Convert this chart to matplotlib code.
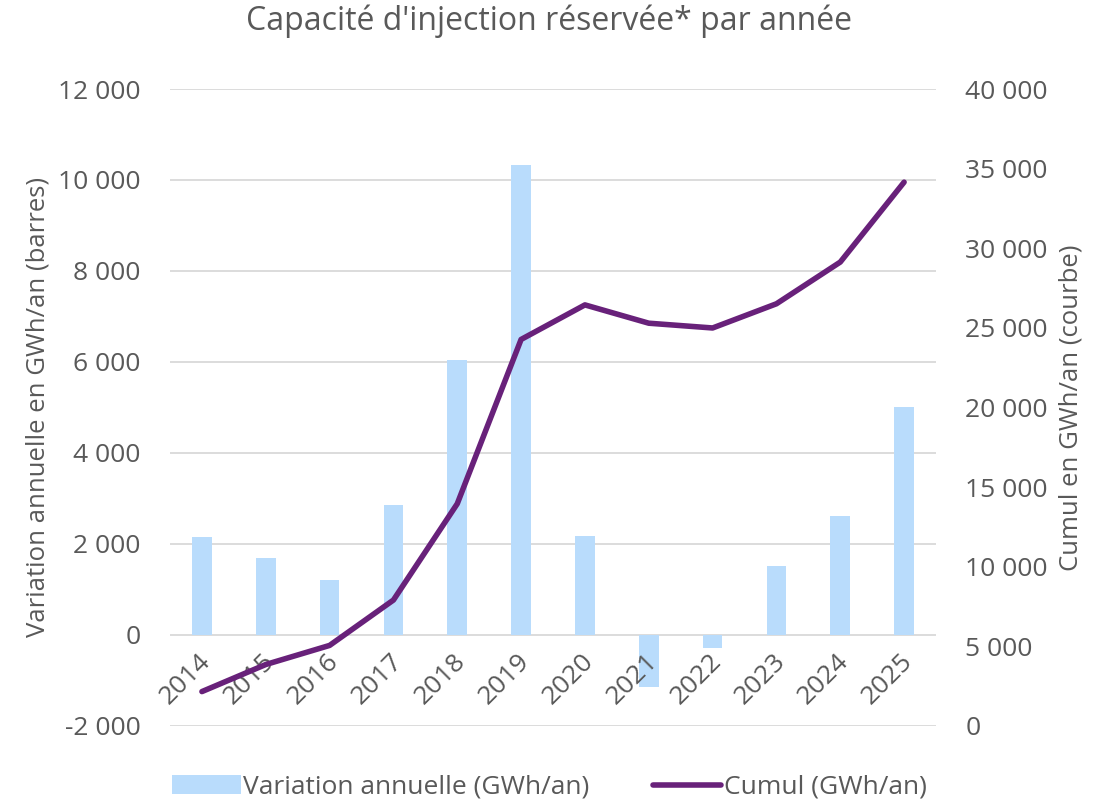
import numpy as np
import matplotlib.pyplot as plt
from matplotlib.ticker import FuncFormatter

years = ['2014', '2015', '2016', '2017', '2018', '2019',
         '2020', '2021', '2022', '2023', '2024', '2025']
variation = [2150, 1700, 1200, 2850, 6050, 10320, 2170, -1150, -300, 1520, 2620, 5020]
cumul = [2150, 3850, 5050, 7900, 13950, 24270, 26440, 25290, 24990, 26510, 29130, 34150]

grey = '#595959'
plt.rcParams['font.family'] = ['Open Sans', 'DejaVu Sans']


def fmt(v, pos):
    return '{:,.0f}'.format(v).replace(',', ' ')


fig = plt.figure(figsize=(10.99, 8.02), dpi=100)
ax = fig.add_axes([0.1547, 0.095, 0.697, 0.794])
x = np.arange(len(years))

ax.bar(x, variation, width=0.31, color='#B9DCFC', label='Variation annuelle (GWh/an)', zorder=2)
ax.set_ylim(-2000, 12000)
ax.set_yticks(np.arange(-2000, 12001, 2000))
ax.yaxis.set_major_formatter(FuncFormatter(fmt))
ax.set_xlim(-0.5, len(years) - 0.5)
ax.set_xticks([])
ax.grid(axis='y', color='#D9D9D9', lw=1.3, zorder=0)
ax.set_axisbelow(True)
for s in ax.spines.values():
    s.set_visible(False)
ax.tick_params(axis='y', length=0, labelsize=19, labelcolor=grey, pad=21)
ax.set_ylabel('Variation annuelle en GWh/an (barres)', fontsize=18.5, color=grey, labelpad=6)

# category labels sit next to the zero line, rotated
for i, yr in enumerate(years):
    ax.text(i - 0.06, -300, yr, rotation=45, ha='right', va='top',
            rotation_mode='anchor', fontsize=19, color=grey)

ax2 = ax.twinx()
ax2.plot(x, cumul, color='#68217A', lw=4, solid_capstyle='round',
         label='Cumul (GWh/an)', zorder=3)
ax2.set_ylim(0, 40000)
ax2.set_yticks(np.arange(0, 40001, 5000))
ax2.yaxis.set_major_formatter(FuncFormatter(fmt))
for s in ax2.spines.values():
    s.set_visible(False)
ax2.tick_params(axis='y', length=0, labelsize=19, labelcolor=grey, pad=21)
ax2.set_ylabel('Cumul en GWh/an (courbe)', fontsize=18.5, color=grey, labelpad=8)
ax2.yaxis.set_label_position('right')
ax2.yaxis.label.set_rotation(90)

fig.suptitle("Capacité d'injection réservée* par année", fontsize=23, color=grey, y=0.995)

h1, l1 = ax.get_legend_handles_labels()
h2, l2 = ax2.get_legend_handles_labels()
fig.legend(h1 + h2, l1 + l2, loc='lower center', bbox_to_anchor=(0.5, -0.027), ncol=2,
           frameon=False, fontsize=19, labelcolor=grey, handlelength=2.6,
           handletextpad=0.1, columnspacing=2.4)

plt.savefig('out.png', dpi=100)
